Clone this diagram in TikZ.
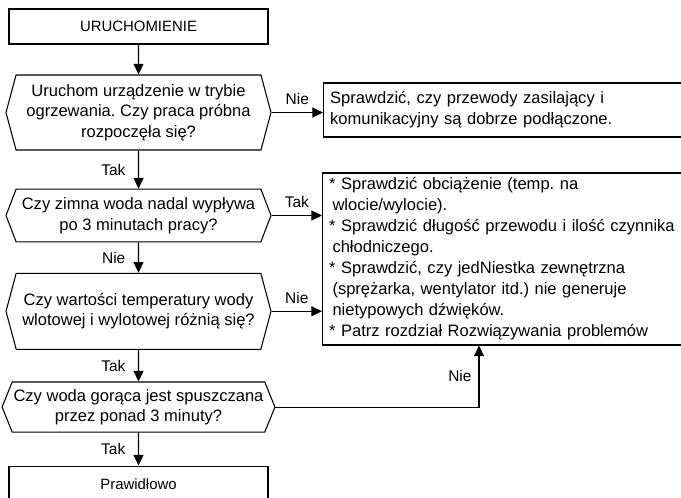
\documentclass[tikz,border=0pt]{standalone}
\usepackage{fontspec}
\setmainfont{Liberation Sans}
\usepackage{tikz}
\usetikzlibrary{arrows.meta}
\usetikzlibrary{shapes.symbols}
\usetikzlibrary{positioning}

\tikzset{
  stepbox/.style={rectangle, draw, minimum width=194.25pt, minimum height=26.25pt,
    font=\fontsize{11.2pt}{13.5pt}\selectfont},
  query/.style={signal, signal to=west and east, draw, align=center,
    minimum width=198.75pt, inner xsep=1pt, font=\fontsize{12.4pt}{15.4pt}\selectfont},
  notebox/.style={rectangle, draw, align=left, text width=380pt, inner xsep=5pt, anchor=west,
    font=\fontsize{12.4pt}{15.75pt}\selectfont},
  arr/.style={-{Triangle[length=8pt,width=7.5pt]}},
  lbl/.style={inner sep=0pt, font=\fontsize{11.6pt}{14pt}\selectfont},
}

\begin{document}
\frenchspacing
\begin{tikzpicture}[x=0.75pt, y=-0.75pt, thick]
  \path[use as bounding box, clip] (0,0) rectangle (681,498);

  \node[stepbox] (start) at (138.5,26.5) {URUCHOMIENIE};
  \node[query, below of=start, node distance=64.5pt, minimum height=56.25pt,
    signal pointer angle=150] (q1)
    {Uruchom urządzenie w trybie\\ogrzewania. Czy praca próbna\\rozpoczęła się?};
  \node[query, below of=q1, node distance=77.25pt, minimum height=39.5pt,
    signal pointer angle=138] (q2)
    {Czy zimna woda nadal wypływa\\po 3 minutach pracy?};
  \node[query, below of=q2, node distance=71.85pt, minimum height=57pt,
    signal pointer angle=150] (q3)
    {Czy wartości temperatury wody\\wlotowej i wylotowej różnią się?};
  \node[query, below of=q3, node distance=71.8pt, minimum height=37.5pt,
    signal pointer angle=136] (q4)
    {Czy woda gorąca jest spuszczana\\przez ponad 3 minuty?};
  \node[stepbox, below of=q4, node distance=57.75pt, minimum height=27pt] (ok) {Prawidłowo};

  \node[notebox, minimum height=40.5pt] (fix1) at (323,110)
    {Sprawdzić, czy przewody zasilający i\\komunikacyjny są dobrze podłączone.};
  \node[notebox, minimum height=129pt] (fix2) at (322,259)
    {* Sprawdzić obciążenie (temp. na\\
     \hspace*{0.2em}wlocie/wylocie).\\
     {*} Sprawdzić długość przewodu i ilość czynnika\\
     \hspace*{0.2em}chłodniczego.\\
     {*} Sprawdzić, czy jedNiestka zewnętrzna\\
     \hspace*{0.2em}(sprężarka, wentylator itd.) nie generuje\\
     \hspace*{0.2em}nietypowych dźwięków.\\
     {*} Patrz rozdział Rozwiązywania problemów};
  \coordinate (back) at (479,0);

  \draw[arr] (start) -- (q1);
  \draw[arr] (q1) -- node[lbl, left=9.5pt] {Tak} (q2);
  \draw[arr] (q2) -- node[lbl, left=9.5pt] {Nie} (q3);
  \draw[arr] (q3) -- node[lbl, left=9.5pt] {Tak} (q4);
  \draw[arr] (q4) -- node[lbl, left=9.5pt] {Tak} (ok);

  \draw[arr] (q1.east) -- node[lbl, above=5.5pt] {Nie} (q1.east -| fix1.west);
  \draw[arr] (q2.east) -- node[lbl, above=5.5pt] {Tak} (q2.east -| fix2.west);
  \draw[arr] (q3.east) -- node[lbl, above=5.5pt] {Nie} (q3.east -| fix2.west);
  \draw[arr] (q4.east) -| node[lbl, pos=0.75, left=5.25pt] {Nie} (back |- fix2.south);
\end{tikzpicture}
\end{document}
